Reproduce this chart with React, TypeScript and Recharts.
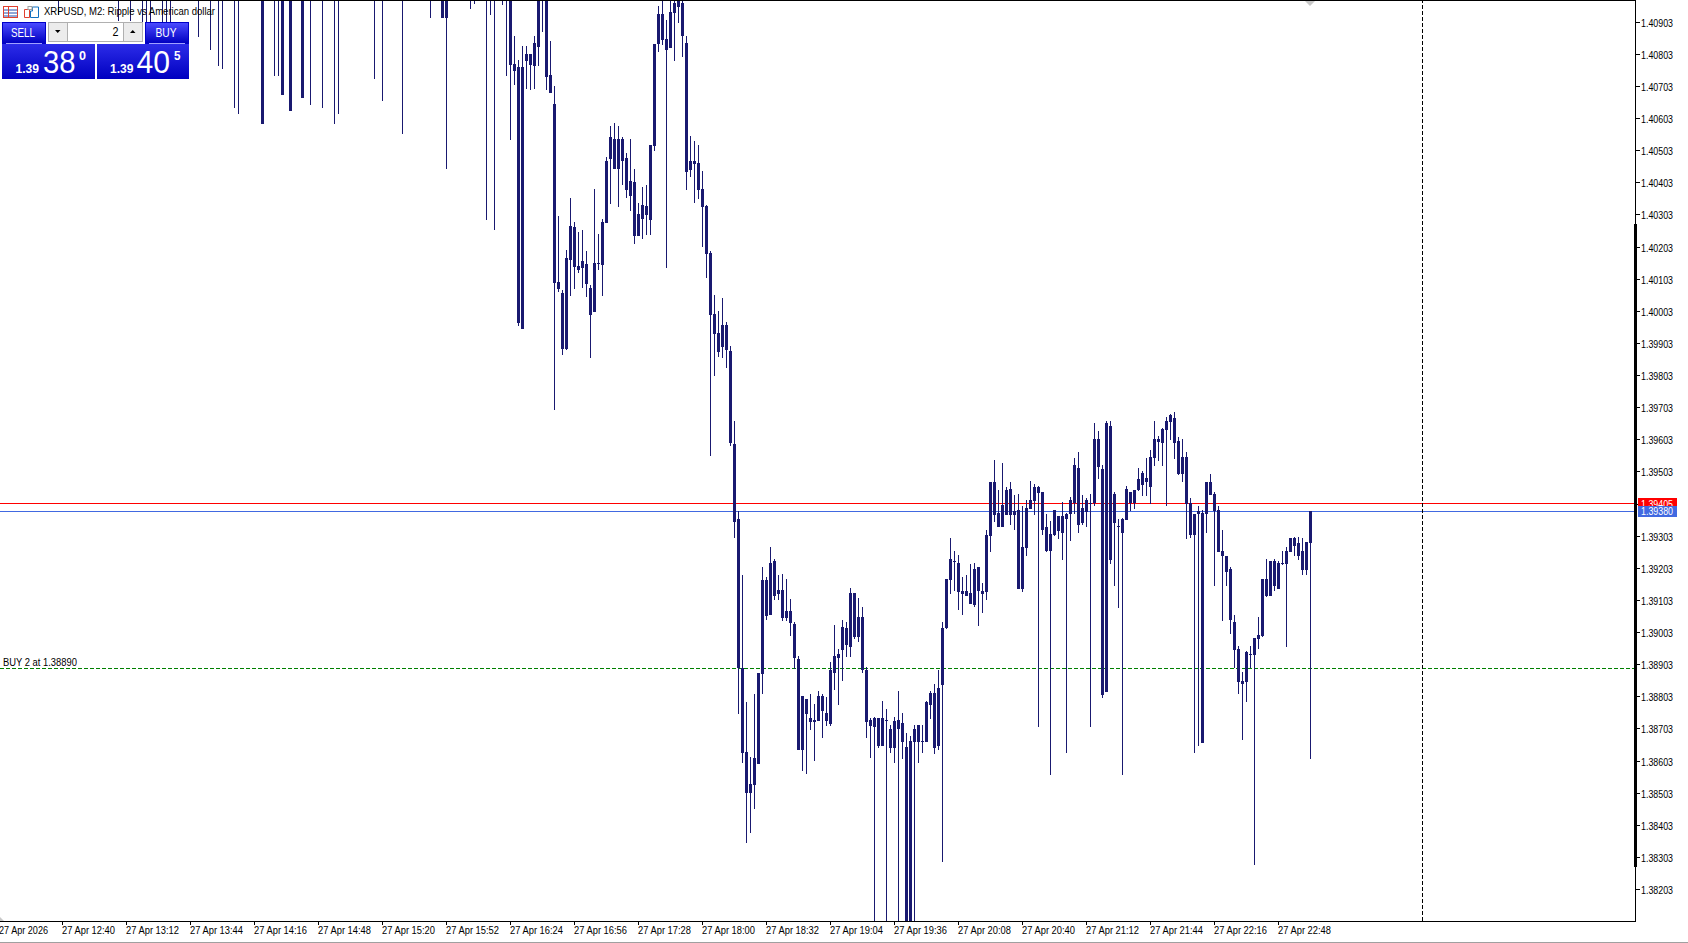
import React from "react";
import { ComposedChart, Bar, XAxis, YAxis, ReferenceLine } from "recharts";

// open, high, low, close, in 1/100000 of a dollar
type Ohlc = [number, number, number, number];

const bars1210: Ohlc[] = [
[141120,141185,141050,141160],[141160,141240,141110,141205],[141205,141262,141140,141150],[141150,141190,141075,141090],
[141090,141170,141040,141135],[141135,141210,141090,141180],[141180,141255,141140,141225],[141225,141300,141170,141190],
[141190,141230,141095,141120],[141120,141180,141060,141075],[141075,141150,141030,141110],[141110,141165,141010,141040],
[141040,141120,140995,141085],[141085,141130,141020,141060],[141060,141110,140925,141020],[141020,141095,140990,141070],
[141070,141140,141035,141115],[141115,141170,141080,141090],[141090,141155,141040,141130],[141130,141215,141095,141180],
[141180,141235,141120,141140],[141140,141190,141060,141085],[141085,141135,141010,141050],[141050,141120,140969,141005],
[141005,141080,140985,141060],[141060,141125,141025,141095],[141095,141140,141015,141040],[141040,141110,141000,141075],
[141075,141090,141005,141025],[141025,141070,140907,141000],[141000,141065,140985,141045],[141045,141090,140995,141010],
[141010,141075,140907,141050],[141050,141110,141010,141030],[141030,141085,140990,141060],[141060,141105,140879,141010],
[141010,141060,140879,141035],[141035,141080,140879,141000],[141000,141060,140985,141040],[141040,141095,141005,141015],
[141015,141070,140879,141025],[141025,141080,140879,141010],[141010,141050,140879,141030],[141030,141095,141000,141065],
[141065,141110,141025,141040],[141040,141085,140990,141015],[141015,141070,140985,141050],[141050,141095,141000,141020],
];
const bars1346: Ohlc[] = [
[141020,141065,140980,141005],[141005,141060,140857,141030],[141030,141085,140985,141000],[141000,141045,140978,141025],
[141025,141080,140816,140995],[140995,141050,140982,141020],[141020,141060,140767,140990],[140990,141040,140757,141010],
[141010,141070,140985,141045],[141045,141090,140995,141005],[141005,141050,140636,140985],[140985,141030,140617,141000],
[141000,141055,140980,141030],[141030,141075,140995,141010],[141010,141060,140985,141025],[141025,141080,140990,141050],
[141050,141090,140985,141000],[141030,141070,140586,140586],[141010,141060,140985,141010],[141010,141070,140980,141040],
[141040,141085,140735,141000],[141000,141050,140735,141020],[141020,141060,140676,140676],[141005,141060,140985,141035],
[141035,141075,140626,140626],[141000,141050,140982,141030],[141030,141075,140990,141005],[141005,141045,140667,140667],
[140995,141050,140980,141020],[141020,141065,140645,141000],[141000,141050,140985,141035],[141035,141070,140995,141010],
[141010,141055,140636,140990],[140990,141040,140980,141015],[141015,141060,140990,141040],[141040,141075,140586,141000],
[141000,141045,140617,140985],[140985,141040,140978,141020],[141020,141060,140990,141045],[141045,141090,141005,141025],
[141025,141065,140995,141010],[141010,141050,140985,141030],[141030,141075,141000,141050],[141050,141090,141010,141025],
[141025,141060,140990,141005],[141005,141045,140726,140990],[140990,141040,140980,141020],[141020,141055,140658,141000],
[141000,141050,140985,141035],[141035,141080,141000,141015],[141015,141060,140990,141030],[141030,141070,141000,141010],
];
const bars1530: Ohlc[] = [
[141010,141050,140555,140990],[140990,141035,140980,141015],[141015,141060,140985,141040],[141040,141085,141000,141020],
[141020,141060,140990,141005],[141005,141045,140980,141030],[141030,141075,141000,141015],[141015,141060,140916,140995],
[140995,141040,140980,141025],[141025,141065,140990,141005],[141005,141040,140916,140916],[141000,141040,140446,140916],
[140990,141035,140980,141015],[141015,141060,140985,141040],[141040,141080,141000,141020],[141020,141065,140990,141005],
[141005,141050,140982,141030],[141030,141070,140947,141000],[141000,141045,140960,141020],[141020,141060,140990,141035],
[141035,141075,141000,141010],[141010,141055,140287,140990],[140990,141040,140925,141015],[141015,141050,140256,140995],
[140995,141030,140980,141010],[141010,141050,140956,140985],[140985,141030,140735,141000],[141000,141040,140536,140770],
[140773,140860,140707,140751],[140763,140785,139957,139968],[139948,140829,139948,140763],[140782,140829,140695,140804],
[140804,140804,140692,140770],[140767,140860,140695,140838],[140826,141060,140767,141030],[141030,141070,140875,141000],
[141000,141040,140692,140732],[140739,140844,140683,140683],[140648,140704,139696,140091],[140094,140300,140063,140072],
[140060,140069,139867,139886],[139886,140194,139883,140169],[140163,140356,140051,140269],[140265,140281,140072,140141],
[140144,140250,140122,140132],[140138,140256,140075,140160],[140150,140191,140047,140088],[140076,140085,139858,139991],
];
const bars1706: Ohlc[] = [
[140001,140384,140001,140153],[140153,140244,140132,140150],[140147,140290,140051,140281],[140278,140483,140278,140471],
[140477,140580,140337,140546],[140539,140589,140446,140446],[140446,140580,140328,140539],[140539,140546,140396,140471],
[140480,140496,140356,140381],[140409,140539,140315,140362],[140405,140446,140212,140237],[140237,140340,140237,140306],
[140290,140390,140228,140334],[140331,140396,140240,140303],[140287,140521,140240,140521],[140518,140835,140502,140835],
[140835,140953,140810,140928],[140928,140990,140832,140847],[140851,140910,140138,140816],[140823,141000,140823,140935],
[140932,141010,140782,140963],[140990,141040,140900,140950],[140963,140990,140795,140860],[140838,140860,140381,140437],
[140443,140549,140421,140471],[140471,140533,140340,140462],[140465,140521,140353,140381],[140384,140440,140203,140328],
[140331,140334,140107,140181],[140184,140191,139553,139991],[139995,140054,139802,139932],[139935,140004,139861,139876],
[139892,140044,139858,139960],[139960,139970,139827,139883],[139879,139895,139584,139593],[139590,139662,139297,139347],
[139356,139381,138750,138893],[138893,139182,138597,138628],[138631,138787,138348,138504],[138504,138616,138379,138532],
[138528,138812,138454,138613],[138594,138877,138594,138877],[138874,139207,138812,139167],[139167,139176,139042,139054],
[139058,139269,139058,139219],[139226,139232,139104,139117],[139123,139182,139104,139135],[139135,139185,139039,139048],
];
const bars1842: Ohlc[] = [
[139048,139170,139039,139070],[139070,139107,138992,139033],[139030,139036,138890,138924],[138921,138930,138637,138637],
[138637,138805,138572,138805],[138796,138796,138563,138749],[138737,138812,138700,138725],[138725,138781,138603,138731],
[138728,138821,138728,138805],[138805,138812,138675,138759],[138753,138802,138712,138728],[138718,138911,138712,138886],
[138877,139026,138824,138930],[138936,138952,138777,138924],[138949,139042,138852,139020],[139017,139036,138927,138964],
[138958,139142,138927,139126],[139126,139126,138983,138989],[138989,139110,138974,139051],[139051,139083,138877,138886],
[138886,138896,138675,138725],[138731,138737,138612,138712],[138709,138740,138080,138737],[138737,138737,138644,138650],
[138650,138790,138650,138737],[138731,138765,138060,138728],[138703,138715,138628,138644],[138644,138740,138597,138728],
[138731,138821,138050,138703],[138721,138752,138609,138662],[138647,138690,137950,138020],[138030,138681,137980,138665],
[138662,138715,138070,138703],[138715,138715,138597,138662],[138662,138715,138628,138665],[138662,138790,138662,138787],
[138777,138821,138734,138815],[138815,138843,138625,138644],[138650,138886,138637,138830],[138840,139036,138289,139017],
[139017,139170,139014,139170],[139167,139297,139123,139232],[139226,139257,139132,139223],[139219,139244,139073,139129],
[139132,139176,139058,139123],[139117,139182,139117,139132],[139126,139216,139092,139092],[139089,139219,139082,139201],
];
const bars2018: Ohlc[] = [
[139207,139207,139023,139132],[139132,139157,139064,139123],[139129,139322,139104,139307],[139304,139472,139254,139472],
[139472,139540,139347,139369],[139375,139447,139332,139332],[139332,139531,139332,139400],[139369,139456,139369,139447],
[139450,139472,139338,139369],[139369,139431,139322,139381],[139384,139434,139139,139139],[139139,139397,139129,139269],
[139266,139416,139241,139391],[139388,139475,139388,139416],[139412,139465,139369,139456],[139456,139459,138709,139437],
[139440,139440,139307,139322],[139332,139372,139254,139257],[139257,139350,138560,139310],[139307,139384,139304,139384],
[139366,139366,139294,139319],[139313,139409,139229,139366],[139372,139375,138628,139356],[139372,139425,139288,139416],
[139406,139546,139372,139525],[139515,139565,139313,139338],[139344,139431,139338,139391],[139378,139422,139332,139416],
[139406,139434,138709,139403],[139406,139655,139397,139605],[139605,139630,139481,139518],[139512,139525,138799,138809],
[138818,139662,138818,139655],[139646,139662,139216,139229],[139344,139440,139148,139434],[139335,139356,139079,139332],
[139313,139360,138560,139356],[139353,139459,139353,139450],[139440,139440,139381,139406],[139406,139447,139388,139447],
[139447,139515,139444,139481],[139462,139506,139428,139500],[139484,139546,139428,139472],[139456,139571,139403,139549],
[139546,139662,139521,139605],[139605,139615,139537,139596],[139593,139640,139521,139637],[139634,139674,139397,139662],
];
const bars2154: Ohlc[] = [
[139658,139683,139602,139680],[139671,139690,139543,139593],[139599,139612,139493,139497],[139497,139605,139472,139549],
[139549,139565,139294,139403],[139406,139422,139297,139307],[139307,139372,138628,139372],[139372,139397,138650,139381],
[139375,139384,138659,138659],[139372,139472,139313,139472],[139472,139497,139431,139431],[139434,139440,139148,139381],
[139384,139397,139254,139254],[139257,139322,139039,139241],[139241,139241,139148,139191],[139201,139207,138998,139042],
[139036,139058,138893,138949],[138952,138961,138812,138849],[138852,138880,138668,138843],[138849,138946,138787,138942],
[138936,138961,138893,138933],[138933,138986,138279,138986],[138983,139051,138952,138995],[138992,139170,138989,139170],
[139170,139232,139114,139117],[139117,139226,139117,139226],[139226,139232,139132,139148],[139139,139226,139139,139219],
[139219,139257,139213,139216],[139216,139269,138958,139257],[139254,139297,139254,139297],[139297,139300,139241,139272],
[139282,139300,139229,139241],[139257,139297,139182,139198],[139198,139285,139182,139285],[139282,139381,138609,139380],
];

const allBars = [...bars1210, ...bars1346, ...bars1530, ...bars1706, ...bars1842, ...bars2018, ...bars2154];

const slotCount = 409;
const timeLabels = ["27 Apr 2026","27 Apr 12:40","27 Apr 13:12","27 Apr 13:44","27 Apr 14:16","27 Apr 14:48","27 Apr 15:20","27 Apr 15:52","27 Apr 16:24","27 Apr 16:56","27 Apr 17:28","27 Apr 18:00","27 Apr 18:32","27 Apr 19:04","27 Apr 19:36","27 Apr 20:08","27 Apr 20:40","27 Apr 21:12","27 Apr 21:44","27 Apr 22:16","27 Apr 22:48"];
const timeSlots = [0,15,31,47,63,79,95,111,127,143,159,175,191,207,223,239,255,271,287,303,319];
const priceTicks = [1.40903,1.40803,1.40703,1.40603,1.40503,1.40403,1.40303,1.40203,1.40103,1.40003,1.39903,1.39803,1.39703,1.39603,1.39503,1.39403,1.39303,1.39203,1.39103,1.39003,1.38903,1.38803,1.38703,1.38603,1.38503,1.38403,1.38303,1.38203];
const bid = 1.3938;
const ask = 1.39405;
const position = 1.3889;
const cursorSlot = 355;
const priceDomain: [number, number] = [1.38105, 1.40972];

const data = Array.from({ length: slotCount }, (_, slot) => {
  const b = allBars[slot];
  return b
    ? { slot, open: b[0] / 1e5, high: b[1] / 1e5, low: b[2] / 1e5, close: b[3] / 1e5 }
    : { slot, open: null, high: null, low: null, close: null };
});

const INK = "#191970";
const FONT = "'Liberation Sans',sans-serif";

function T({ x, y, w, size = 11, fill = "#000", weight, children }: any) {
  return (
    <text x={x} y={y} fontFamily={FONT} fontSize={size} fontWeight={weight} fill={fill}
      textLength={w} lengthAdjust="spacingAndGlyphs">{children}</text>
  );
}

function Candle(props: any) {
  const { x, y, width, height, payload } = props;
  if (payload == null || payload.high == null) return null;
  const cx = Math.round(x + width / 2);
  const range = payload.high - payload.low;
  const s = range > 0 ? height / range : 0;
  const top = Math.round(y + (payload.high - Math.max(payload.open, payload.close)) * s);
  const bot = Math.round(y + (payload.high - Math.min(payload.open, payload.close)) * s);
  return (
    <g shapeRendering="crispEdges">
      <rect x={cx} y={Math.round(y)} width={1} height={Math.max(1, Math.round(height))} fill={INK} />
      <rect x={cx - 1} y={top} width={3} height={Math.max(1, bot - top)} fill={INK} />
    </g>
  );
}

function TimeTick(props: any) {
  const { x, payload } = props;
  const i = timeSlots.indexOf(payload.value);
  if (i < 0) return null;
  return (
    <g>
      {i > 0 && <rect x={Math.round(x)} y={922} width={1} height={3} fill="#000" shapeRendering="crispEdges" />}
      <T x={i === 0 ? -1 : Math.round(x)} y={934} w={i === 0 ? 49 : 53}>{timeLabels[i]}</T>
    </g>
  );
}

function PriceTick(props: any) {
  const { y, payload } = props;
  const row = Math.floor(y);
  return (
    <g>
      <rect x={1636} y={row} width={4} height={1} fill="#000" shapeRendering="crispEdges" />
      <T x={1641} y={row + 5} w={32}>{payload.value.toFixed(5)}</T>
    </g>
  );
}

const box = (l: number, t: number, w: number, h: number, extra: any = {}) => ({
  position: "absolute" as const, left: l, top: t, width: w, height: h, ...extra,
});
const blue = "linear-gradient(#4a4aff,#0000c0)";
const panelBlue = "linear-gradient(#2c2ce8,#0000c0)";

function TradePanel() {
  return (
    <>
      <div style={box(2, 22, 44, 22, { background: blue, boxSizing: "border-box", border: "1px solid #0000c8" })} />
      <div style={box(145, 22, 44, 22, { background: blue, boxSizing: "border-box", border: "1px solid #0000c8" })} />
      <div style={box(46, 22, 99, 22, { background: "#fff" })} />
      <div style={box(48, 22, 95, 20, { background: "#fff", boxSizing: "border-box", border: "1px solid #b0b0b0" })} />
      <div style={box(49, 23, 19, 18, { background: "#ececec", borderRight: "1px solid #b0b0b0", boxSizing: "border-box" })} />
      <div style={box(123, 23, 19, 18, { background: "#ececec", borderLeft: "1px solid #b0b0b0", boxSizing: "border-box" })} />
      <div style={box(2, 44, 93, 35, { background: panelBlue })} />
      <div style={box(97, 44, 92, 35, { background: panelBlue })} />
      <div style={box(6, 43, 36, 1, { background: "#a0a0ff" })} />
      <div style={box(149, 43, 36, 1, { background: "#a0a0ff" })} />
      <svg style={box(0, 0, 240, 80)} width={240} height={80}>
        <path d="M55 30H60.5L57.75 33Z M130 33H135.5L132.75 30Z" fill="#000" />
        <rect x={3.5} y={6.5} width={14} height={11} fill="#fff" stroke="#e04030" />
        <path d="M4 10H17M4 13H17M4 16H17" stroke="#2050b0" />
        <path d="M8.5 7V17" stroke="#e04030" />
        <path d="M24.5 9.5H29.5V17.5H24.5Z" fill="#fff" stroke="#e04030" />
        <path d="M32.5 7H38.5V17.5H30.5V11H32.5Z" fill="#fff" stroke="#1070c0" />
        <rect x={28} y={6.5} width={4} height={3} fill="#fff" stroke="#a0a0a0" />
        <T x={44} y={15} w={171}>{"XRPUSD, M2:  Ripple vs American dollar"}</T>
        <T x={11} y={37} w={24} size={13} fill="#fff">SELL</T>
        <T x={155.5} y={37} w={21} size={13} fill="#fff">BUY</T>
        <T x={112.5} y={36} w={6} size={13}>2</T>
        <T x={15.5} y={73} w={23.5} size={13} fill="#fff" weight={700}>1.39</T>
        <T x={43} y={73} w={32.5} size={31} fill="#fff">38</T>
        <T x={79} y={60} w={7} size={12} fill="#fff" weight={700}>0</T>
        <T x={110} y={73} w={23.5} size={13} fill="#fff" weight={700}>1.39</T>
        <T x={136.5} y={73} w={33.5} size={31} fill="#fff">40</T>
        <T x={174} y={60} w={6.5} size={12} fill="#fff" weight={700}>5</T>
      </svg>
    </>
  );
}

export default function App() {
  return (
    <div style={box(0, 0, 1688, 943, { background: "#fff", overflow: "hidden" })}>
      <ComposedChart width={1688} height={943} data={data} margin={{ top: 0, right: 0, bottom: 0, left: 0 }} barCategoryGap={0} style={{ position: "absolute", left: 0, top: 0 }}>
        <XAxis dataKey="slot" type="category" height={22} ticks={timeSlots} interval={0} tickLine={false}
          axisLine={{ stroke: "#000", shapeRendering: "crispEdges" }} tick={<TimeTick />} />
        <YAxis orientation="right" width={52} domain={priceDomain} allowDataOverflow ticks={priceTicks} interval={0}
          axisLine={false} tickLine={false} tick={<PriceTick />} />
        <ReferenceLine y={ask} stroke="#ff0000" shapeRendering="crispEdges" zIndex={100} />
        <ReferenceLine y={bid} stroke="#4169e1" shapeRendering="crispEdges" zIndex={100} />
        <ReferenceLine y={position} stroke="#008000" strokeDasharray="4 2" shapeRendering="crispEdges" zIndex={100}
          label={(p: any) => <T x={3} y={p.viewBox.y - 3} w={74}>BUY 2 at 1.38890</T>} />
        <ReferenceLine x={cursorSlot} stroke="#000" strokeDasharray="4 2" shapeRendering="crispEdges" zIndex={100} />
        <Bar dataKey={(d: any) => (d.high == null ? null : [d.low, d.high])} shape={<Candle />} isAnimationActive={false} zIndex={500} />
      </ComposedChart>
      <div style={box(0, 0, 1636, 1, { background: "#000" })} />
      <div style={box(1635, 0, 1, 922, { background: "#000" })} />
      <div style={box(1634, 224, 3, 643, { background: "#000" })} />
      <div style={box(0, 942, 1688, 1, { background: "#a0a0a0" })} />
      <svg style={box(1305, 0, 10, 7)} width={10} height={7}><path d="M0 1H10L5 6Z" fill="#c8c8c8" /></svg>
      <svg style={box(0, 917, 5, 5)} width={5} height={5}><path d="M0 0L4 4H0Z" fill="#c8c8c8" /></svg>
      <svg style={box(1638, 498, 40, 20)} width={40} height={20}>
        <rect x={0} y={0} width={39} height={9} fill="#ff0000" />
        <T x={3} y={10} w={32} fill="#fff">1.39405</T>
        <rect x={0} y={8} width={39} height={11} fill="#4169e1" />
        <T x={3} y={17} w={32} fill="#fff">1.39380</T>
      </svg>
      <TradePanel />
    </div>
  );
}
